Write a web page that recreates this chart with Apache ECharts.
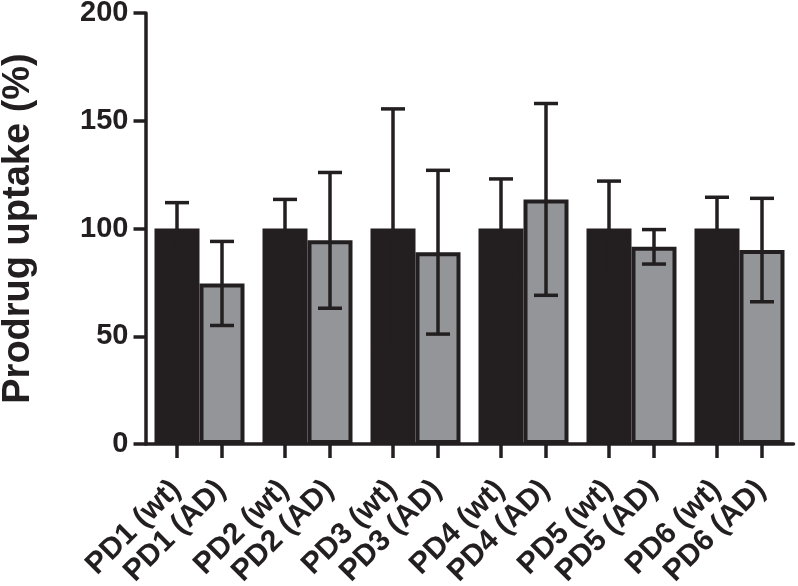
<!DOCTYPE html>
<html>
<head>
<meta charset="utf-8">
<script src="https://cdn.jsdelivr.net/npm/echarts@6/dist/echarts.min.js"></script>
<style>html,body{margin:0;padding:0;background:#fff;}#c{width:798px;height:586px;}</style>
</head>
<body>
<div id="c"></div>
<script>
const categories = ['PD1', 'PD2', 'PD3', 'PD4', 'PD5', 'PD6'];
const wtLabels = ['PD1 (wt)', 'PD2 (wt)', 'PD3 (wt)', 'PD4 (wt)', 'PD5 (wt)', 'PD6 (wt)'];
const adLabels = ['PD1 (AD)', 'PD2 (AD)', 'PD3 (AD)', 'PD4 (AD)', 'PD5 (AD)', 'PD6 (AD)'];
const wtMean = [100, 100, 100, 100, 100, 100];
const wtSD = [12, 13.5, 55.5, 23, 22, 14.5];
const adMean = [74.5, 94.5, 89, 113.5, 91.5, 90];
const adSD = [19.5, 31.5, 38, 44.5, 8, 24];
const yTicks = [0, 50, 100, 150, 200];

const INK = '#231f20';
const GRAY = '#939598';
const BAR_FRAC = 45 / 108;
const FONT = 'Liberation Sans';

function errData(mean, sd) {
  return mean.map((m, i) => [i, m - sd[i], m + sd[i]]);
}
function errRender(sign) {
  return function (params, api) {
    const i = api.value(0);
    const lo = api.coord([i, api.value(1)]);
    const hi = api.coord([i, api.value(2)]);
    const bw = api.size([1, 0])[0];
    const x = lo[0] + sign * bw * BAR_FRAC / 2;
    const cap = 12;
    const st = { stroke: INK, lineWidth: 3.5 };
    return {
      type: 'group',
      children: [
        { type: 'line', shape: { x1: x, y1: lo[1], x2: x, y2: hi[1] }, style: st },
        { type: 'line', shape: { x1: x - cap, y1: hi[1], x2: x + cap, y2: hi[1] }, style: st },
        { type: 'line', shape: { x1: x - cap, y1: lo[1], x2: x + cap, y2: lo[1] }, style: st }
      ]
    };
  };
}
function labelRender(params, api) {
  const i = api.value(0);
  const sign = api.value(1);
  const p = api.coord([i, 0]);
  const bw = api.size([1, 0])[0];
  const x = p[0] + sign * bw * BAR_FRAC / 2;
  const y0 = p[1];
  const text = sign < 0 ? wtLabels[i] : adLabels[i];
  return {
    type: 'group',
    children: [
      { type: 'line', shape: { x1: x, y1: y0, x2: x, y2: y0 + 14 }, style: { stroke: INK, lineWidth: 3.5 } },
      {
        type: 'text', x: x - 1, y: y0 + 41, rotation: Math.PI / 4,
        style: { text: text, fontSize: 30, fontWeight: 'bold', fontFamily: FONT, fill: INK, align: 'right', verticalAlign: 'middle' }
      }
    ]
  };
}
const labelData = [];
categories.forEach((c, i) => { labelData.push([i, -1]); labelData.push([i, 1]); });

const chart = echarts.init(document.getElementById('c'), null, { renderer: 'canvas' });
chart.setOption({
  animation: false,
  backgroundColor: '#fff',
  grid: { left: 145.5, right: 4.5, top: 13, bottom: 142, containLabel: false, outerBoundsMode: 'none' },
  xAxis: {
    type: 'category',
    data: categories,
    axisLine: { lineStyle: { color: INK, width: 3.5 } },
    axisTick: { show: false },
    axisLabel: { show: false },
    splitLine: { show: false }
  },
  yAxis: {
    type: 'value',
    min: yTicks[0], max: yTicks[yTicks.length - 1], interval: 50,
    name: 'Prodrug uptake (%)',
    nameLocation: 'middle',
    nameGap: 108,
    nameTextStyle: { fontFamily: FONT, fontWeight: 'bold', fontSize: 38, color: INK },
    axisLine: { show: true, lineStyle: { color: INK, width: 3.5 } },
    axisTick: { show: true, length: 12, lineStyle: { color: INK, width: 3.5 } },
    axisLabel: { fontFamily: FONT, fontWeight: 'bold', fontSize: 29, color: INK, margin: 17 },
    splitLine: { show: false }
  },
  series: [
    {
      type: 'bar', name: 'wt', data: wtMean, barWidth: (BAR_FRAC * 100) + '%', barGap: '0%',
      itemStyle: { color: INK, borderColor: INK, borderWidth: 4 }
    },
    {
      type: 'bar', name: 'AD', data: adMean, barWidth: (BAR_FRAC * 100) + '%', barGap: '0%',
      itemStyle: { color: GRAY, borderColor: INK, borderWidth: 4 }
    },
    {
      type: 'custom', name: 'wt err', renderItem: errRender(-1), data: errData(wtMean, wtSD),
      encode: { x: 0, y: [1, 2] }, z: 10
    },
    {
      type: 'custom', name: 'AD err', renderItem: errRender(1), data: errData(adMean, adSD),
      encode: { x: 0, y: [1, 2] }, z: 10
    },
    {
      type: 'custom', name: 'labels', renderItem: labelRender, data: labelData,
      encode: { x: 0 }, clip: false, z: 10
    }
  ]
});
</script>
</body>
</html>
